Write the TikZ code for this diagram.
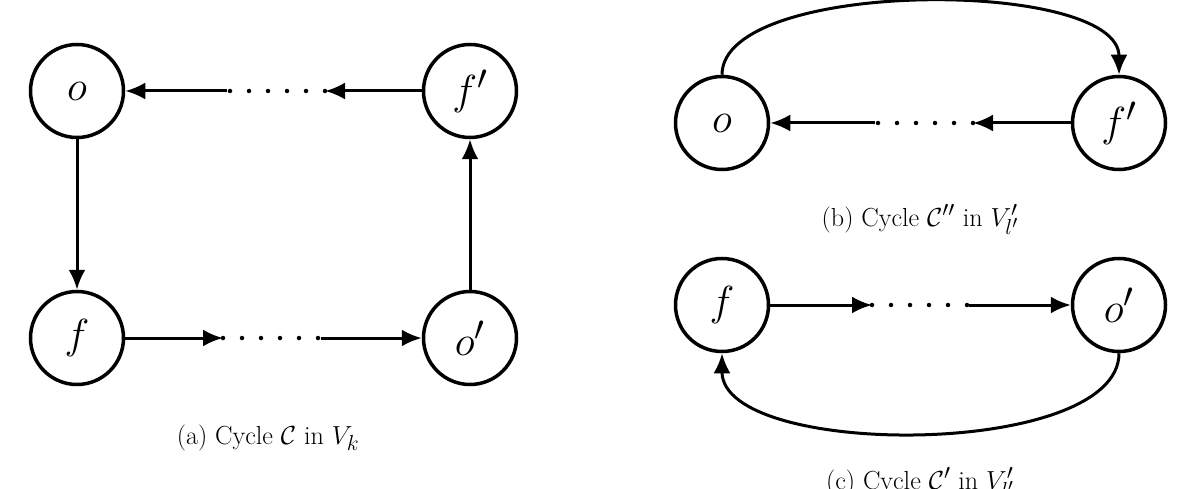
\documentclass[tikz,border=0pt]{standalone}
\usepackage{graphicx}
\usetikzlibrary{arrows.meta}
\newcommand{\vlab}[1]{\scalebox{1.69}{\fontsize{24.88}{30}\selectfont$#1$}}
\newcommand{\captxt}[1]{\scalebox{1.05}{\fontsize{24.88}{30}\selectfont #1}}
\begin{document}
\begin{tikzpicture}[x=1pt,y=-1pt,
  vert/.style={circle,draw,line width=3.5pt,minimum size=93pt,inner sep=0pt},
  edge/.style={line width=3pt,-{Latex[length=20pt,width=17pt]}},
  dots/.style={line width=4.5pt,line cap=round,dash pattern=on 0pt off 19pt},
  captext/.style={anchor=base,inner sep=0pt}]
\useasboundingbox (0,0) rectangle (1177,489);
% (a)
\node[vert] (ao) at (77,91) {\vlab{o}};
\node[vert] (afp) at (470,91) {\vlab{f'}};
\node[vert] (af) at (77,338) {\vlab{f}};
\node[vert] (aop) at (470,338) {\vlab{o'}};
\coordinate (a1) at (325,91);
\coordinate (a2) at (227,91);
\coordinate (a3) at (223,338);
\coordinate (a4) at (321,338);
\draw[edge] (afp) -- (a1);
\draw[dots] (a1) -- (a2);
\draw[edge] (a2) -- (ao);
\draw[edge] (ao) -- (af);
\draw[edge] (af) -- (a3);
\draw[dots] (a3) -- (a4);
\draw[edge] (a4) -- (aop);
\draw[edge] (aop) -- (afp);
\node[captext] (capa) at (268,444) {\captxt{(a) Cycle $\mathcal{C}$ in $V_k$}};
% (b)
\node[vert] (bo) at (722,123) {\vlab{o}};
\node[vert] (bfp) at (1119,123) {\vlab{f'}};
\coordinate (b1) at (973,123);
\coordinate (b2) at (875,123);
\draw[edge] (bfp) -- (b1);
\draw[dots] (b1) -- (b2);
\draw[edge] (b2) -- (bo);
\draw[edge] (bo.north) .. controls (722,-22) and (1119,-22) .. (bfp.north);
\node[captext] (capb) at (920,226) {\captxt{(b) Cycle $\mathcal{C}''$ in $V'_{l'}$}};
% (c)
\node[vert] (cf) at (722,305) {\vlab{f}};
\node[vert] (cop) at (1119,305) {\vlab{o'}};
\coordinate (c1) at (872,305);
\coordinate (c2) at (969,305);
\draw[edge] (cf) -- (c1);
\draw[dots] (c1) -- (c2);
\draw[edge] (c2) -- (cop);
\draw[edge] (cop.south) .. controls (1119,459) and (722,459) .. (cf.south);
\node[captext] (capc) at (920,489) {\captxt{(c) Cycle $\mathcal{C}'$ in $V'_{l'}$}};
\end{tikzpicture}
\end{document}
